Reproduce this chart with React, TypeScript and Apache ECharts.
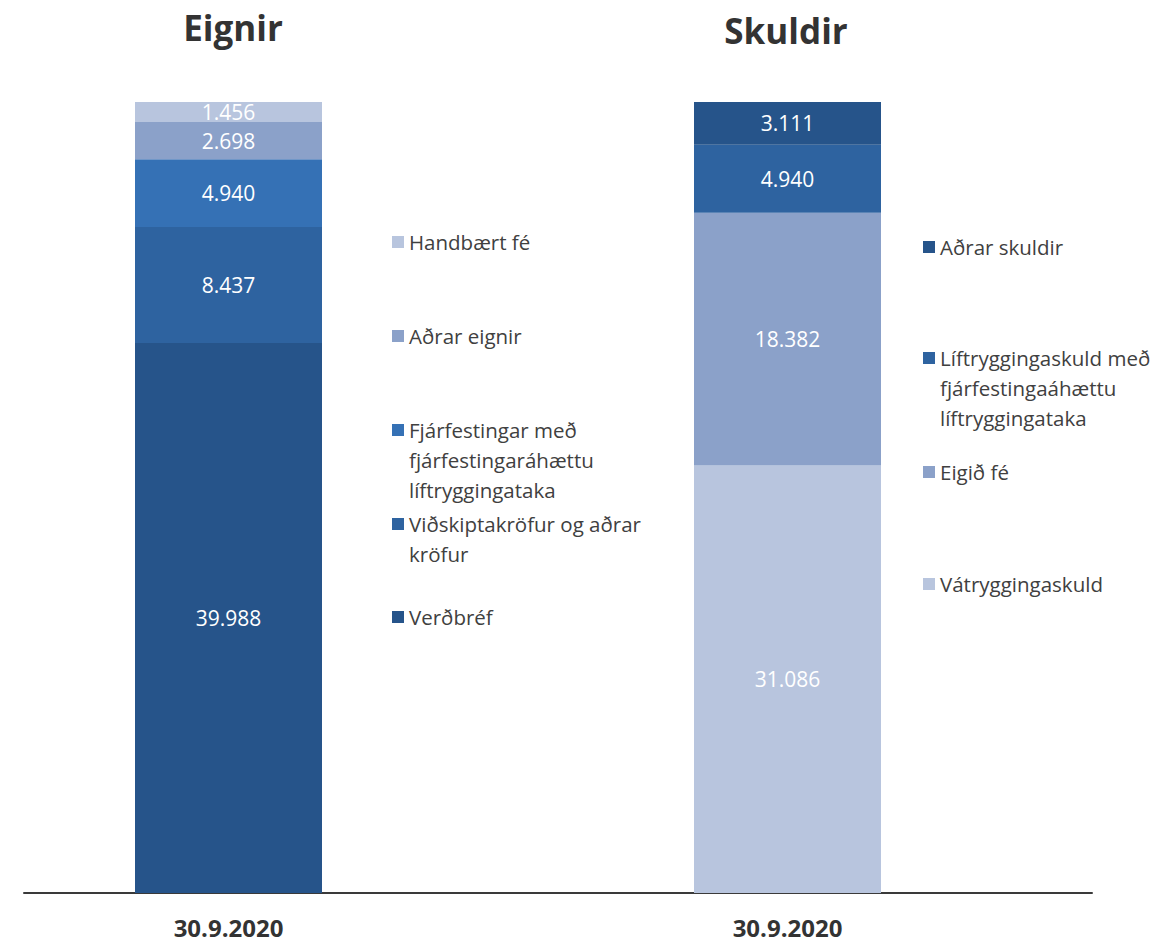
import React, { useEffect, useRef } from 'react';
import * as echarts from 'echarts';

const DATE_LABEL = '30.9.2020';
const TITLES = ['Eignir', 'Skuldir'];

const assetNames = [
  'Verðbréf',
  'Viðskiptakröfur og aðrar kröfur',
  'Fjárfestingar með fjárfestingaráhættu líftryggingataka',
  'Aðrar eignir',
  'Handbært fé',
];
const assetValues = [39.988, 8.437, 4.94, 2.698, 1.456];

const liabilityNames = [
  'Vátryggingaskuld',
  'Eigið fé',
  'Líftryggingaskuld með fjárfestingaáhættu líftryggingataka',
  'Aðrar skuldir',
];
const liabilityValues = [31.086, 18.382, 4.94, 3.111];

const legendWrap: Record<string, string> = {
  'Viðskiptakröfur og aðrar kröfur': 'Viðskiptakröfur og aðrar\nkröfur',
  'Fjárfestingar með fjárfestingaráhættu líftryggingataka':
    'Fjárfestingar með\nfjárfestingaráhættu\nlíftryggingataka',
  'Líftryggingaskuld með fjárfestingaáhættu líftryggingataka':
    'Líftryggingaskuld með\nfjárfestingaáhættu\nlíftryggingataka',
};

// styles / layout (kept apart from data)
const assetColors = ['#26548a', '#2e63a0', '#3571b5', '#8ba1c9', '#b8c5de'];
const liabilityColors = ['#b8c5de', '#8ba1c9', '#2e63a0', '#26548a'];
const FONT = '"Open Sans", sans-serif';
const TEXT_COLOR = '#404040';
const LINE_H = 30;
// icon centre y for each legend item (in series order)
const assetLegendY = [617, 524, 430, 336, 242];
const liabilityLegendY = [584, 472, 358, 247];

// legend text: blank lines are prepended so that the icon (which is centred
// vertically on the text block) lines up with the first real line
const legendText = (name: string) => {
  const text = legendWrap[name] || name;
  const lines = text.split('\n').length;
  return '\n'.repeat(lines - 1) + text;
};

export default function App() {
  const ref = useRef<HTMLDivElement>(null);
  useEffect(() => {
    if (!ref.current) return;
    const chart = echarts.init(ref.current, undefined, { renderer: 'svg' });
    const total = Math.max(
      assetValues.reduce((a, b) => a + b, 0),
      liabilityValues.reduce((a, b) => a + b, 0)
    );

    const mkLegend = (name: string, iconY: number, left: number) => {
      const lines = legendText(name).split('\n').length;
      const boxH = lines * LINE_H;
      return {
        data: [name],
        left,
        top: iconY - boxH / 2,
        orient: 'vertical',
        padding: 0,
        icon: 'rect',
        itemWidth: 12,
        itemHeight: 12,
        selectedMode: false,
        formatter: (n: string) => legendText(n),
        textStyle: { fontFamily: FONT, fontSize: 20.5, color: TEXT_COLOR, lineHeight: LINE_H },
      };
    };

    const labelStyle = {
      show: true,
      position: 'inside',
      color: '#ffffff',
      fontFamily: FONT,
      fontSize: 21,
      formatter: (p: any) => Number(p.value).toFixed(3),
    };

    const xCat = (gridIndex: number, margin: number) => ({
      type: 'category',
      gridIndex,
      data: [DATE_LABEL],
      axisLine: { show: false },
      axisTick: { show: false },
      axisLabel: {
        margin,
        fontFamily: FONT,
        fontWeight: 'bold',
        fontSize: 24,
        lineHeight: 28,
        color: '#333333',
      },
    });

    const yVal = (gridIndex: number) => ({
      type: 'value',
      gridIndex,
      min: 0,
      max: total,
      show: false,
    });

    chart.setOption({
      animation: false,
      backgroundColor: '#ffffff',
      textStyle: { fontFamily: FONT },
      graphic: [
        {
          type: 'text', x: 233, y: 27,
          style: { text: TITLES[0], align: 'center', verticalAlign: 'middle', fontFamily: FONT, fontWeight: 'bold', fontSize: 35, fill: '#333333' },
        },
        {
          type: 'text', x: 786, y: 30,
          style: { text: TITLES[1], align: 'center', verticalAlign: 'middle', fontFamily: FONT, fontWeight: 'bold', fontSize: 35, fill: '#333333' },
        },
      ],
      legend: [
        ...assetNames.map((n, i) => mkLegend(n, assetLegendY[i], 392)),
        ...liabilityNames.map((n, i) => mkLegend(n, liabilityLegendY[i], 923)),
      ],
      grid: [
        { left: 24, width: 409, top: 102, height: 791 },
        { left: 483, width: 609, top: 102, height: 791 },
        { left: 24, width: 1068, top: 102, height: 791 },
      ],
      xAxis: [
        xCat(0, 20),
        xCat(1, 20),
        {
          type: 'value',
          gridIndex: 2,
          min: 0,
          max: 1,
          axisLine: { show: true, onZero: false, lineStyle: { color: '#3a3a3a', width: 2 } },
          axisTick: { show: false },
          axisLabel: { show: false },
          splitLine: { show: false },
        },
      ],
      yAxis: [
        yVal(0),
        yVal(1),
        { type: 'value', gridIndex: 2, min: 0, max: 1, show: false },
      ],
      series: [
        ...assetNames.map((n, i) => ({
          name: n, type: 'bar', stack: 'assets', xAxisIndex: 0, yAxisIndex: 0, barWidth: 187,
          itemStyle: { color: assetColors[i] }, label: labelStyle, data: [assetValues[i]],
        })),
        ...liabilityNames.map((n, i) => ({
          name: n, type: 'bar', stack: 'liabilities', xAxisIndex: 1, yAxisIndex: 1, barWidth: 187,
          itemStyle: { color: liabilityColors[i] }, label: labelStyle, data: [liabilityValues[i]],
        })),
      ],
    });
    return () => chart.dispose();
  }, []);

  return <div ref={ref} style={{ position: 'fixed', left: 0, top: 0, width: 1171, height: 943 }} />;
}
